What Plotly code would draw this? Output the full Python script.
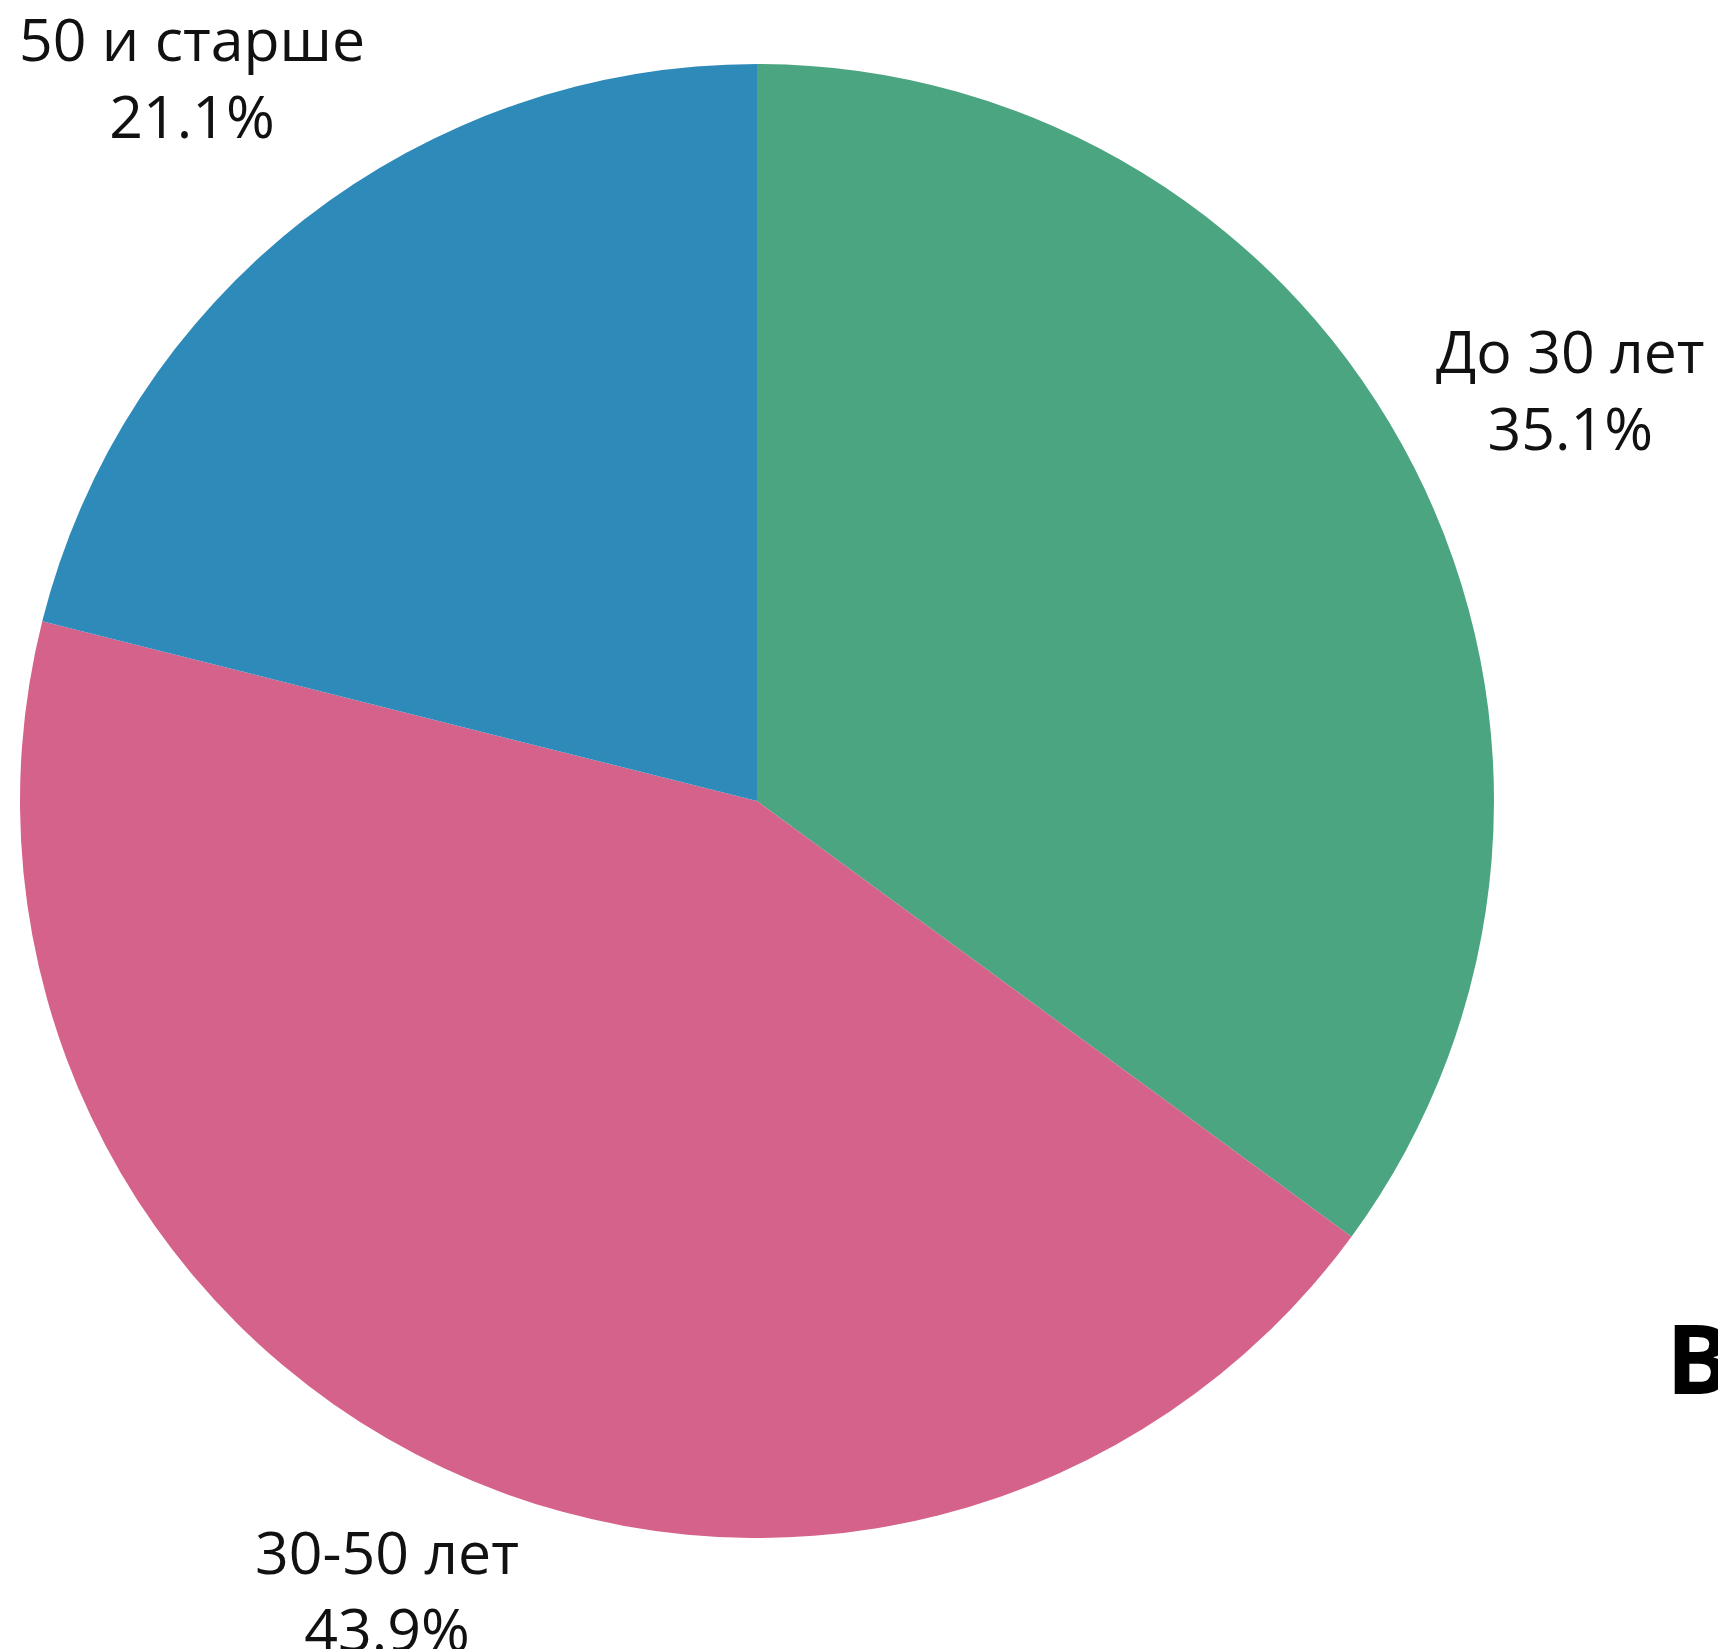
import math
import plotly.graph_objects as go

# Age groups and their shares (%)
labels = ["До 30 лет", "30-50 лет", "50 и старше"]
shares = [35.1, 43.9, 21.1]
colors = ["#4ba580", "#d5628b", "#2e8ab8"]

W, H = 1718, 1649
margin = dict(l=20, r=224, t=64, b=111)
font_size = 59
line_h = font_size * 1.3

fig = go.Figure(
    go.Pie(
        labels=labels,
        values=shares,
        sort=False,
        direction="clockwise",
        rotation=0,
        automargin=False,
        marker=dict(colors=colors, line=dict(width=0)),
        textinfo="none",
        showlegend=False,
        hoverinfo="skip",
    )
)

# Outside labels: each text box sits just beyond the rim, along its slice's mid-angle
plot_w = W - margin["l"] - margin["r"]
plot_h = H - margin["t"] - margin["b"]
cx = margin["l"] + plot_w / 2
cy = margin["t"] + plot_h / 2
radius = min(plot_w, plot_h) / 2
gap = 22

total = sum(shares)
start = 0.0
for lab, val in zip(labels, shares):
    mid = (start + val / 2) / total * 2 * math.pi
    start += val
    dx, dy = math.sin(mid), -math.cos(mid)
    pct = f"{val / total * 100:.1f}%"
    half_w = max(len(lab), len(pct)) * font_size * 0.5 / 2
    half_h = line_h
    dist = radius + gap + abs(dx) * half_w + abs(dy) * half_h
    # below the centre the box's blank headroom faces the pie, so pull it in
    if dy > 0:
        dist -= 0.24 * font_size
    px, py = cx + dx * dist, cy + dy * dist
    fig.add_annotation(
        text=f"{lab}<br>{pct}",
        xref="paper", yref="paper",
        x=(px - margin["l"]) / plot_w,
        y=1 - (py - margin["t"]) / plot_h,
        xanchor="center", yanchor="middle",
        showarrow=False,
        font=dict(family="Open Sans", size=font_size, color="#111111"),
    )

fig.add_annotation(
    text="<b>В</b>",
    xref="paper", yref="paper",
    x=1.1153, y=0.1235,
    xanchor="left", yanchor="middle",
    showarrow=False,
    font=dict(family="Open Sans", size=97, color="#000000"),
)

fig.update_layout(
    width=W,
    height=H,
    margin=dict(**margin, autoexpand=False),
    paper_bgcolor="white",
    plot_bgcolor="white",
)

fig.write_html("out.html")
